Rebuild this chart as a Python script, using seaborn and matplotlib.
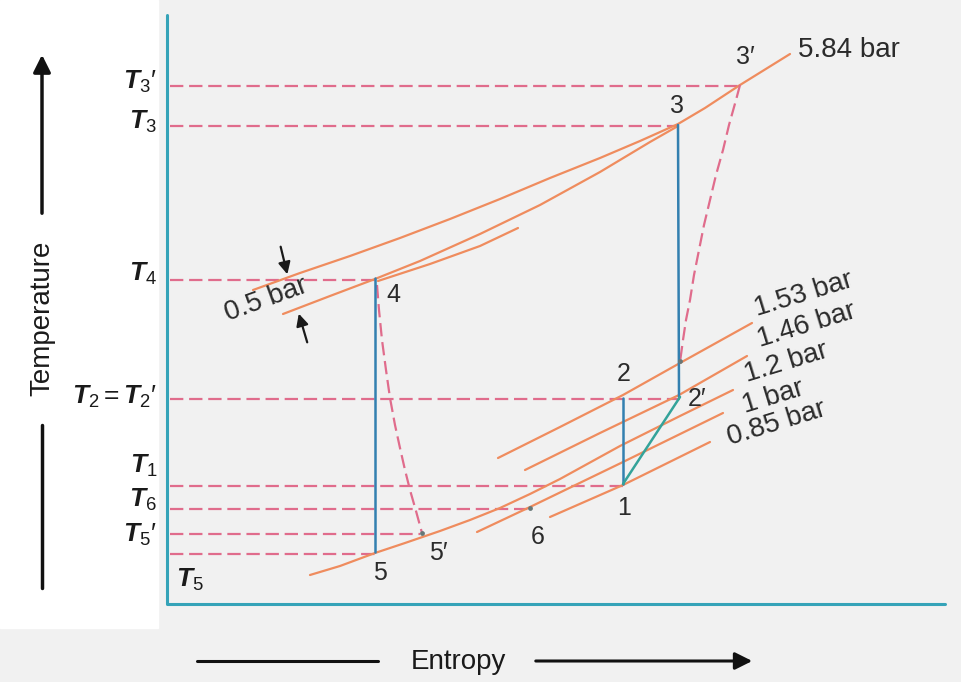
import matplotlib
matplotlib.use("Agg")
import matplotlib.pyplot as plt
from matplotlib.patches import Rectangle
import pandas as pd
import seaborn as sns

# --- data (entropy s to the right, temperature drawn with screen-style y) ---
# constant pressure lines, high side
hp_584_s = [253, 300, 350, 400, 450, 500, 550, 600, 640, 678, 705, 740, 790]
hp_584_y = [290, 273, 256, 238, 219, 199, 178, 158, 141, 124, 108, 85, 54]
hp_534_s = [283, 330, 375, 420, 480, 540, 600, 650, 678]
hp_534_y = [314, 296, 279, 261, 234, 205, 172, 142, 126]
hp_extra_s = [378, 430, 480, 518]
hp_extra_y = [281, 264, 246, 228]

# constant pressure lines, low side
lp_153_s = [498, 560, 623, 680, 752]
lp_153_y = [458, 427, 395, 363, 323]
lp_146_s = [525, 600, 679, 747]
lp_146_y = [470, 433, 395, 356]
lp_120_s = [310, 340, 375, 405, 440, 470, 500, 530, 560, 620, 680, 733]
lp_120_y = [575, 566, 553, 543, 531, 520, 508, 494, 479, 446, 416, 390]
lp_100_s = [477, 530, 623, 723]
lp_100_y = [532, 507, 462, 413]
lp_085_s = [550, 623, 710]
lp_085_y = [517, 485, 442]

# real (irreversible) compression / expansion paths
comp_s = [740, 736, 729, 723, 716, 710, 704, 699, 694, 690, 686, 683, 680]
comp_y = [85, 100, 125, 150, 175, 200, 225, 250, 275, 300, 320, 340, 362]
exp_s = [377, 379, 382, 386, 390, 395, 400, 405, 410, 416, 422]
exp_y = [285, 310, 340, 370, 398, 425, 448, 470, 490, 511, 533]

# isentropic / process lines
proc_45_s, proc_45_y = [375, 375], [278, 552]
proc_32_s, proc_32_y = [678, 679], [125, 397]
proc_21_s, proc_21_y = [623, 623], [398, 484]
proc_12_s, proc_12_y = [623, 680], [484, 397]

# temperature levels
t_levels_y = [86, 126, 280, 399, 486, 509, 534, 554]
t_levels_end = [740, 678, 375, 680, 623, 530, 420, 375]
t_labels = ["$T_{3}$\u2032", "$T_3$", "$T_4$", "$T_2 = T_{2}$\u2032", "$T_1$", "$T_6$", "$T_{5}$\u2032"]
t_label_y = [82, 122, 274, 397, 466, 500, 535]

# state points
pt_names = ["3\u2032", "3", "4", "2", "2\u2032", "1", "6", "5\u2032", "5"]
pt_s = [745, 677, 393, 624, 697, 624, 538, 438, 380]
pt_y = [57, 106, 295, 374, 399, 508, 537, 553, 573]
dot_s = [422, 530, 680]
dot_y = [533, 508, 361]

# pressure labels
p_names = ["1.53 bar", "1.46 bar", "1.2 bar", "1 bar", "0.85 bar"]
p_s = [757, 760, 747, 745, 730]
p_y = [316, 347, 382, 413, 445]

ORANGE = "#EF8C5E"
PINK = "#E06C8C"
BLUE = "#3380B0"
TEAL = "#34A39A"
FRAME = "#35A3B8"
INK = "#2B2B2B"

sns.set_style("white")
plt.rcParams["font.family"] = ["Liberation Sans", "DejaVu Sans"]
plt.rcParams["mathtext.fontset"] = "custom"
plt.rcParams["mathtext.it"] = "Liberation Sans:italic:bold"
plt.rcParams["mathtext.rm"] = "Liberation Sans"

fig = plt.figure(figsize=(9.61, 6.82), dpi=100, facecolor="#F1F1F1")
ax = fig.add_axes([0, 0, 1, 1])
ax.set_facecolor("#F1F1F1")
ax.set_xlim(0, 961)
ax.set_ylim(682, 0)
ax.axis("off")
ax.add_patch(Rectangle((0, 0), 158, 628, color="white", zorder=0))

# frame
sns.lineplot(x=[167, 167, 945], y=[15, 604, 604], ax=ax, color=FRAME, lw=2.2,
             sort=False, estimator=None)

# horizontal temperature levels
for y, xe in zip(t_levels_y, t_levels_end):
    sns.lineplot(x=[170, xe], y=[y, y], ax=ax, color=PINK, lw=1.6,
                 linestyle=(0, (6, 2.6)), sort=False, estimator=None)

# pressure lines
curves = [(hp_584_s, hp_584_y), (hp_534_s, hp_534_y), (hp_extra_s, hp_extra_y),
          (lp_153_s, lp_153_y), (lp_146_s, lp_146_y), (lp_120_s, lp_120_y),
          (lp_100_s, lp_100_y), (lp_085_s, lp_085_y)]
rows = []
for i, (s, y) in enumerate(curves):
    rows += [{"curve": i, "s": a, "y": b} for a, b in zip(s, y)]
pdf = pd.DataFrame(rows)
sns.lineplot(data=pdf, x="s", y="y", units="curve", estimator=None, sort=False,
             ax=ax, color=ORANGE, lw=1.6)

# actual compression and expansion
for s, y in [(comp_s, comp_y), (exp_s, exp_y)]:
    sns.lineplot(x=s, y=y, ax=ax, color=PINK, lw=1.6, linestyle=(0, (6, 2.6)),
                 sort=False, estimator=None)

# process lines
for s, y in [(proc_45_s, proc_45_y), (proc_32_s, proc_32_y), (proc_21_s, proc_21_y)]:
    sns.lineplot(x=s, y=y, ax=ax, color=BLUE, lw=1.8, sort=False, estimator=None)
sns.lineplot(x=proc_12_s, y=proc_12_y, ax=ax, color=TEAL, lw=1.8, sort=False, estimator=None)
sns.scatterplot(x=dot_s, y=dot_y, ax=ax, color="#667777", s=12, linewidth=0, zorder=5)

# labels
for lab, y in zip(t_labels, t_label_y):
    ax.text(157, y, lab, ha="right", va="center", fontsize=19, color="#1A1A1A")
ax.text(176, 580, r"$T_5$", ha="left", va="center", fontsize=19, color="#1A1A1A")

for lab, s, y in zip(pt_names, pt_s, pt_y):
    ax.text(s, y, lab, ha="center", va="center", fontsize=18, color=INK)

for lab, s, y in zip(p_names, p_s, p_y):
    ax.text(s, y, lab, ha="left", va="baseline", rotation=17, rotation_mode="anchor",
            fontsize=20, color=INK)
ax.text(798, 57, "5.84 bar", ha="left", va="baseline", fontsize=20, color=INK)
ax.text(228, 321, "0.5 bar", ha="left", va="baseline", rotation=20, rotation_mode="anchor",
        fontsize=20, color=INK)

arr = dict(arrowstyle="-|>", lw=1.6, color="#1A1A1A", mutation_scale=18)
ax.annotate("", xy=(288, 277), xytext=(280, 244), arrowprops=arr)
ax.annotate("", xy=(298, 311), xytext=(308, 345), arrowprops=arr)

# axis titles with arrows
ax.text(42, 318, "Temperature", rotation=90, ha="center", va="center", fontsize=20, color="#1A1A1A")
ax.annotate("", xy=(42, 52), xytext=(42, 216),
            arrowprops=dict(arrowstyle="-|>", lw=2.5, color="#111111", mutation_scale=26))
ax.plot([42, 42], [425, 588], color="#111111", lw=2.5)

ax.text(458, 662, "Entropy", ha="center", va="center", fontsize=20, color="#1A1A1A")
ax.plot([197, 378], [661, 661], color="#111111", lw=2.2)
ax.annotate("", xy=(755, 661), xytext=(533, 661),
            arrowprops=dict(arrowstyle="-|>", lw=2.2, color="#111111", mutation_scale=26))

fig.savefig("out.png", dpi=100, facecolor=fig.get_facecolor())
